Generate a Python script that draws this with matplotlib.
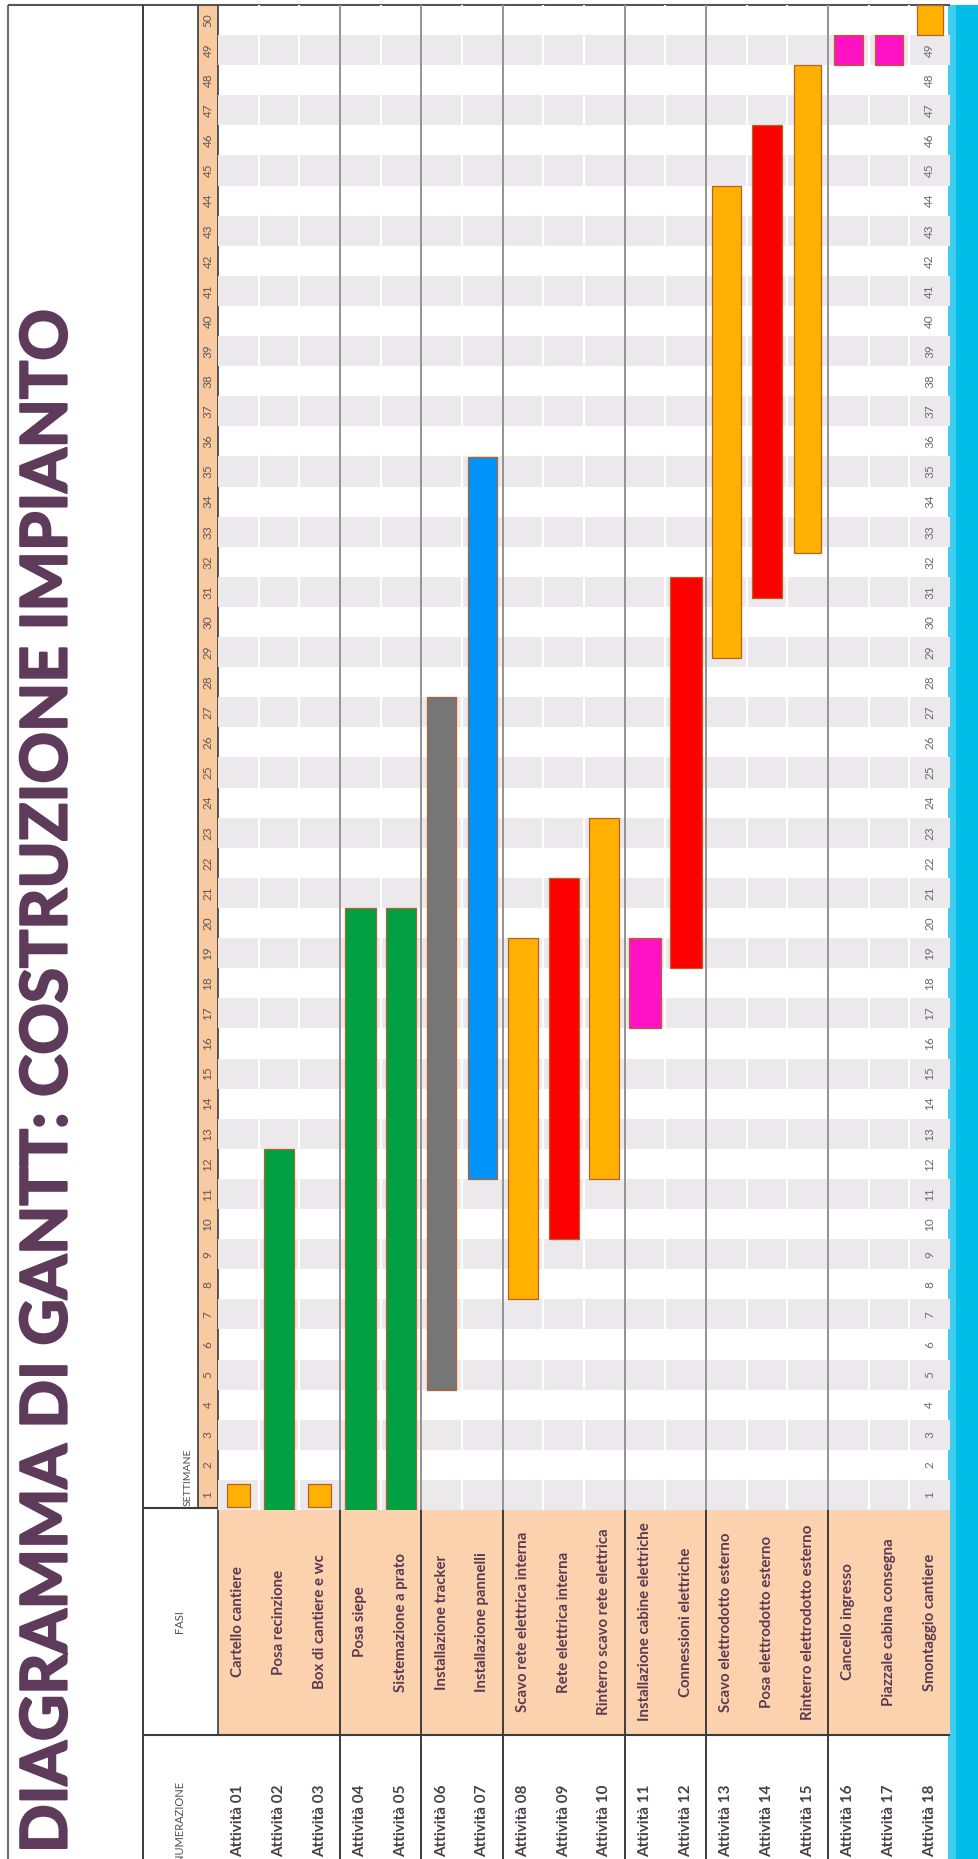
import matplotlib
matplotlib.use("Agg")
import numpy as np
import matplotlib.pyplot as plt
import matplotlib.patheffects as pe
from matplotlib.patches import Rectangle
from matplotlib.transforms import blended_transform_factory

# --- data ---------------------------------------------------------------
title = "DIAGRAMMA DI GANTT: COSTRUZIONE IMPIANTO"

codes = ["Attività 01", "Attività 02", "Attività 03", "Attività 04", "Attività 05",
         "Attività 06", "Attività 07", "Attività 08", "Attività 09", "Attività 10",
         "Attività 11", "Attività 12", "Attività 13", "Attività 14", "Attività 15",
         "Attività 16", "Attività 17", "Attività 18"]

phases = ["Cartello cantiere", "Posa recinzione", "Box di cantiere e wc",
          "Posa siepe", "Sistemazione a prato",
          "Installazione tracker", "Installazione pannelli",
          "Scavo rete elettrica interna", "Rete elettrica interna",
          "Rinterro scavo rete elettrica",
          "Installazione cabine elettriche", "Connessioni elettriche",
          "Scavo elettrodotto esterno", "Posa elettrodotto esterno",
          "Rinterro elettrodotto esterno",
          "Cancello ingresso", "Piazzale cabina consegna", "Smontaggio cantiere"]

# start / end positions in weeks (week k spans k-1 .. k)
start_week = [0.1, 0, 0.1, 0, 0, 4, 11, 7, 9, 11, 16, 18, 28.3, 30.3, 31.8, 48, 48, 49]
end_week = [0.85, 12, 0.85, 20, 20, 27, 35, 19, 21, 23, 19, 31, 44, 46, 48, 49, 49, 50]

weeks = list(range(1, 51))
group_ends = [3, 5, 7, 10, 12, 15]

# --- styles -------------------------------------------------------------
ORANGE, GREEN, GREY, BLUE, RED, PINK = "#FFB000", "#00A043", "#767676", "#0094FA", "#FF0000", "#FF12C4"
bar_colors = [ORANGE, GREEN, ORANGE, GREEN, GREEN, GREY, BLUE, ORANGE, RED, ORANGE,
              PINK, RED, ORANGE, RED, ORANGE, PINK, PINK, ORANGE]
bar_widths = [0.56, 0.74, 0.56, 0.76, 0.72, 0.72, 0.7, 0.74, 0.74, 0.74,
              0.78, 0.78, 0.72, 0.76, 0.68, 0.7, 0.7, 0.64]
PEACH = "#FBD2AD"
TITLE_C = "#5E3B5A"
TEXT_C = "#5A3A52"
LINE_C = "#3C3C3C"

plt.rcParams["font.family"] = ["Lato", "DejaVu Sans"]

W, H = 979, 1859
fig = plt.figure(figsize=(W / 100, H / 100), dpi=100)
fig.patch.set_facecolor("white")

# full-figure layout axes in pixel units (y downwards)
lay = fig.add_axes([0, 0, 1, 1])
lay.set_xlim(0, W)
lay.set_ylim(H, 0)
lay.axis("off")

# gantt axes: x = activity row, y = weeks
GX0, GX1, GY0, GY1 = 218, 950, 1510, 5
g = fig.add_axes([GX0 / W, (H - GY0) / H, (GX1 - GX0) / W, (GY0 - GY1) / H])
g.set_xlim(0.5, len(codes) + 0.5)
g.set_ylim(0, 50)
g.axis("off")

rows = np.arange(1, len(codes) + 1)
row_px = blended_transform_factory(g.transData, lay.transData)   # x rows, y pixels
px_week = blended_transform_factory(lay.transData, g.transData)  # x pixels, y weeks

# backgrounds
lay.add_patch(Rectangle((952, 5), W - 952, H - 5, color="#00BEE8", lw=0))
lay.add_patch(Rectangle((948, 5), 8, H - 5, color="#3FCDF0", lw=0))
lay.add_patch(Rectangle((GX0, 1508), GX1 - GX0, 1735 - 1508, color=PEACH, lw=0))
lay.add_patch(Rectangle((198, 5), 20, 1503, color="#F9C9A0", lw=0))

# week bands
for k in weeks:
    if k % 2 == 1:
        g.axhspan(k - 1, k, color="#ECE9EC", lw=0, zorder=0)
g.vlines(rows[:-1] + 0.5, 0, 50, colors="white", lw=1.6, zorder=1)
g.vlines(np.array(group_ends) + 0.5, 0, 50, colors="#8A8A8A", lw=1.3, zorder=2)

# bars
durations = [e - s for s, e in zip(start_week, end_week)]
g.bar(rows, durations, bottom=start_week, width=bar_widths, color=bar_colors,
      edgecolor="#B5622A", linewidth=0.9, zorder=3)

# week numbers inside last row
for k in weeks[:-1]:
    g.text(rows[-1], k - 0.5, str(k), rotation=90, ha="center", va="center",
           fontsize=8.5, color="#6A6A6A", zorder=4)

# week numbers in header strip
for k in weeks:
    lay.text(208, k - 0.5, str(k), transform=px_week, rotation=90,
             ha="center", va="center", fontsize=8.5, color="#5A5A5A")

# table lines
lay.vlines(8, 5, H, colors="#707070", lw=1.5)
lay.hlines(5, 8, GX1, colors="#555555", lw=1.5)
lay.vlines(143, 5, H, colors=LINE_C, lw=1.4)
lay.vlines([198, 218], 5, 1508, colors=LINE_C, lw=1.2)
lay.vlines(218, 1508, 1735, colors=LINE_C, lw=1.2)
lay.hlines([1508, 1735], 143, GX1, colors=LINE_C, lw=1.5)
lay.vlines(np.array(group_ends) + 0.5, 1508, H, colors=LINE_C, lw=1.4, transform=row_px)

# header texts
lay.text(188, 1506, "SETTIMANE", rotation=90, ha="center", va="bottom",
         fontsize=7.5, color="#505050")
lay.text(180, 1622, "FASI", rotation=90, ha="center", va="center",
         fontsize=8, color="#505050")
lay.text(180, 1862, "NUMERAZIONE", rotation=90, ha="center", va="bottom",
         fontsize=8, color="#505050")

# activity names and codes
for r, name, code in zip(rows, phases, codes):
    lay.text(r, 1622, name, transform=row_px, rotation=90, ha="center", va="center",
             fontsize=10.8, fontweight="bold", color=TEXT_C)
    lay.text(r, 1857, code, transform=row_px, rotation=90, ha="center", va="bottom",
             fontsize=11, fontweight="bold", color="#4A3F4A")

# title
lay.text(48, 1853, title, rotation=90, ha="center", va="bottom",
         fontsize=46, fontweight="bold", color=TITLE_C,
         path_effects=[pe.withStroke(linewidth=1.6, foreground=TITLE_C)])

fig.savefig("out.png", dpi=100)
